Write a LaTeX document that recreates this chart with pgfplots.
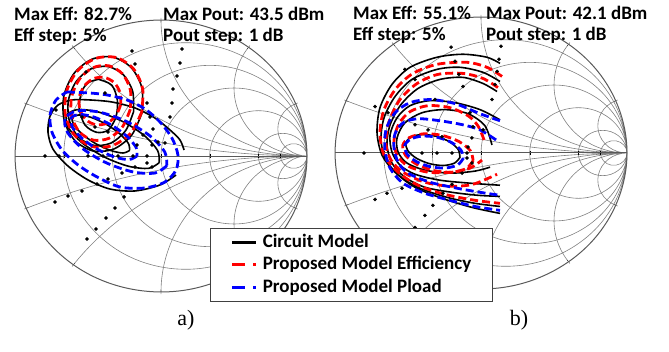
\documentclass[border=0pt]{standalone}
\usepackage{pgfplots}
\pgfplotsset{compat=1.18}
\usepgfplotslibrary{smithchart}
\usepackage{fontspec}
\setmainfont{Carlito}
\newfontfamily\seriffont{Liberation Serif}
\newcommand\notefont{\fontsize{19bp}{21bp}\selectfont\bfseries}

\pgfplotsset{
  smith base/.style={
    anchor=center, width=292bp, height=272bp, scale only axis,
    xtick={0.2,0.5,1,2,5,10}, ytick={-5,-2,-1,-0.5,-0.2,0.2,0.5,1,2,5},
    xticklabel={\relax}, yticklabel={\relax},
    major grid style={black!50, line width=0.6bp},
    axis line style={black!65, line width=1bp},
  },
  circ/.style={black, line width=1.6bp, smooth, is smithchart cs, no markers},
  effm/.style={red, line width=2.8bp, dash pattern=on 8bp off 4bp, smooth, is smithchart cs, no markers},
  plm/.style={blue, line width=2.8bp, dash pattern=on 8bp off 4bp, smooth, is smithchart cs, no markers},
  meas/.style={only marks, mark=*, mark size=1.6bp, black, is smithchart cs},
}

\begin{document}
\begin{tikzpicture}
\useasboundingbox (0,0) rectangle (669bp,352bp);

% ---------------- a) ----------------
\begin{smithchart}[smith base, at={(161bp,196bp)}]
% circuit model: efficiency contours
\addplot[circ] coordinates {(-0.429,0.564) (-0.338,0.522) (-0.299,0.412) (-0.308,0.289) (-0.361,0.191) (-0.440,0.174) (-0.521,0.228) (-0.560,0.351) (-0.543,0.473) (-0.498,0.539) (-0.429,0.564)};
\addplot[circ] coordinates {(-0.188,0.326) (-0.242,0.187) (-0.341,0.096) (-0.459,0.078) (-0.564,0.138) (-0.628,0.260) (-0.634,0.410) (-0.580,0.549) (-0.481,0.640) (-0.363,0.658) (-0.258,0.598) (-0.194,0.476) (-0.188,0.326)};
\addplot[circ] coordinates {(-0.129,0.321) (-0.199,0.156) (-0.322,0.052) (-0.465,0.037) (-0.590,0.114) (-0.663,0.262) (-0.665,0.443) (-0.595,0.608) (-0.472,0.712) (-0.329,0.727) (-0.204,0.650) (-0.131,0.502) (-0.129,0.321)};
% circuit model: output power contours
\addplot[circ] coordinates {(-0.215,0.041) (-0.260,0.022) (-0.346,0.041) (-0.449,0.092) (-0.541,0.162) (-0.599,0.232) (-0.607,0.283) (-0.562,0.302) (-0.476,0.283) (-0.373,0.232) (-0.281,0.162) (-0.223,0.092) (-0.215,0.041)};
\addplot[circ] coordinates {(-0.012,-0.049) (-0.085,-0.091) (-0.224,-0.075) (-0.391,-0.006) (-0.542,0.098) (-0.635,0.210) (-0.646,0.299) (-0.573,0.341) (-0.434,0.325) (-0.267,0.256) (-0.116,0.152) (-0.023,0.040) (-0.012,-0.049)};
\addplot[circ] coordinates {(0.103,-0.140) (-0.007,-0.213) (-0.178,-0.257) (-0.349,-0.243) (-0.500,-0.176) (-0.637,-0.074) (-0.740,0.051) (-0.774,0.176) (-0.760,0.294) (-0.705,0.375) (-0.610,0.412) (-0.486,0.412) (-0.336,0.397) (-0.178,0.353) (-0.041,0.279) (0.062,0.191) (0.130,0.118) (0.158,0.044)};
% proposed model: efficiency
\addplot[effm] coordinates {(-0.276,0.377) (-0.310,0.294) (-0.372,0.240) (-0.447,0.230) (-0.514,0.267) (-0.555,0.340) (-0.560,0.431) (-0.526,0.514) (-0.464,0.568) (-0.389,0.578) (-0.322,0.541) (-0.281,0.468) (-0.276,0.377)};
\addplot[effm] coordinates {(-0.210,0.344) (-0.264,0.214) (-0.357,0.130) (-0.465,0.117) (-0.558,0.176) (-0.612,0.293) (-0.612,0.436) (-0.558,0.566) (-0.465,0.650) (-0.357,0.663) (-0.264,0.604) (-0.210,0.487) (-0.210,0.344)};
\addplot[effm] coordinates {(-0.132,0.323) (-0.207,0.169) (-0.332,0.077) (-0.472,0.070) (-0.590,0.151) (-0.654,0.298) (-0.648,0.471) (-0.573,0.625) (-0.448,0.717) (-0.308,0.724) (-0.190,0.643) (-0.126,0.496) (-0.132,0.323)};
% proposed model: load power
\addplot[plm] coordinates {(-0.165,0.000) (-0.219,-0.026) (-0.319,-0.007) (-0.438,0.051) (-0.544,0.133) (-0.609,0.216) (-0.615,0.280) (-0.561,0.306) (-0.461,0.287) (-0.342,0.229) (-0.236,0.147) (-0.171,0.064) (-0.165,0.000)};
\addplot[plm] coordinates {(0.040,-0.071) (-0.040,-0.125) (-0.192,-0.117) (-0.375,-0.050) (-0.540,0.057) (-0.642,0.177) (-0.656,0.277) (-0.576,0.331) (-0.424,0.323) (-0.241,0.256) (-0.077,0.149) (0.026,0.029) (0.040,-0.071)};
\addplot[plm] coordinates {(-0.644,0.471) (-0.486,0.463) (-0.370,0.449) (-0.233,0.412) (-0.110,0.346) (-0.007,0.250) (0.075,0.132) (0.116,0.007) (0.103,-0.103) (0.027,-0.191) (-0.110,-0.235) (-0.281,-0.228) (-0.438,-0.154) (-0.568,-0.066) (-0.678,0.044) (-0.747,0.176) (-0.760,0.301) (-0.719,0.412) (-0.644,0.471)};
% load-pull points
\addplot[meas] coordinates {(-0.199,0.772) (0.144,0.787) (0.130,0.684) (-0.178,0.676) (-0.514,0.618) (0.110,0.588) (0.082,0.493) (-0.384,0.463) (0.075,0.390) (-0.096,0.390) (-0.719,0.338) (0.062,0.287) (-0.075,0.287) (-0.541,0.287) (-0.452,0.213) (-0.363,0.176) (-0.055,0.199) (-0.123,0.154) (-0.021,0.103) (0.027,0.096) (-0.062,0.081) (-0.164,0.081) (-0.795,0) (-0.699,0) (-0.500,0) (-0.397,0) (-0.295,0) (-0.192,0) (-0.096,0) (-0.096,-0.051) (-0.062,-0.081) (-0.178,-0.081) (-0.267,-0.125) (-0.363,-0.169) (-0.438,-0.206) (-0.541,-0.257) (-0.637,-0.294) (-0.726,-0.338) (-0.253,-0.301) (-0.315,-0.382) (-0.377,-0.456) (-0.445,-0.537) (-0.507,-0.610)};
\end{smithchart}

% ---------------- b) ----------------
\begin{smithchart}[smith base, at={(481bp,199bp)}]
% circuit model
\addplot[circ] coordinates {(0.130,0.659) (0.041,0.704) (-0.123,0.726) (-0.301,0.704) (-0.486,0.630) (-0.610,0.504) (-0.692,0.333) (-0.712,0.148) (-0.678,-0.015) (-0.589,-0.141) (-0.452,-0.252) (-0.267,-0.333) (-0.062,-0.400) (0.130,-0.444)};
\addplot[circ] coordinates {(0.130,0.526) (0.014,0.593) (-0.144,0.630) (-0.301,0.615) (-0.473,0.541) (-0.589,0.415) (-0.664,0.259) (-0.685,0.096) (-0.651,-0.052) (-0.555,-0.170) (-0.418,-0.259) (-0.233,-0.326) (-0.041,-0.370) (0.130,-0.393)};
\addplot[circ] coordinates {(0.110,0.452) (0.014,0.511) (-0.123,0.556) (-0.281,0.541) (-0.432,0.474) (-0.548,0.356) (-0.623,0.207) (-0.644,0.059) (-0.610,-0.074) (-0.521,-0.178) (-0.384,-0.252) (-0.199,-0.289) (-0.021,-0.311) (0.130,-0.319)};
\addplot[circ] coordinates {(0.130,0.244) (-0.007,0.319) (-0.178,0.370) (-0.349,0.385) (-0.486,0.348) (-0.575,0.259) (-0.623,0.133) (-0.610,0.007) (-0.555,-0.089) (-0.452,-0.156) (-0.281,-0.200) (-0.075,-0.222) (0.130,-0.237)};
\addplot[circ] coordinates {(0.075,0.059) (0.027,0.200) (-0.089,0.289) (-0.247,0.319) (-0.404,0.296) (-0.521,0.222) (-0.575,0.111) (-0.568,0.007) (-0.507,-0.074) (-0.384,-0.126) (-0.212,-0.148) (-0.041,-0.133) (0.062,-0.104)};
\addplot[circ] coordinates {(-0.144,-0.032) (-0.181,-0.074) (-0.258,-0.092) (-0.354,-0.078) (-0.443,-0.038) (-0.502,0.018) (-0.514,0.076) (-0.477,0.119) (-0.400,0.136) (-0.304,0.122) (-0.215,0.082) (-0.156,0.026) (-0.144,-0.032)};
% proposed model: efficiency
\addplot[effm] coordinates {(0.144,0.563) (0.041,0.630) (-0.096,0.667) (-0.301,0.652) (-0.466,0.585) (-0.582,0.474) (-0.664,0.319) (-0.692,0.148) (-0.664,-0.015) (-0.568,-0.141) (-0.432,-0.237) (-0.247,-0.304) (-0.041,-0.348) (0.130,-0.370)};
\addplot[effm] coordinates {(0.116,0.481) (0.014,0.548) (-0.123,0.585) (-0.295,0.578) (-0.438,0.511) (-0.555,0.393) (-0.630,0.230) (-0.651,0.067) (-0.616,-0.052) (-0.534,-0.141) (-0.384,-0.215) (-0.212,-0.244) (-0.055,-0.230) (0.110,-0.156)};
\addplot[effm] coordinates {(0.021,0.096) (-0.021,0.200) (-0.089,0.274) (-0.212,0.333) (-0.363,0.348) (-0.486,0.304) (-0.562,0.215) (-0.596,0.096) (-0.575,-0.015) (-0.500,-0.096) (-0.363,-0.141) (-0.199,-0.141) (-0.075,-0.111) (0.007,-0.052)};
\addplot[effm] coordinates {(-0.054,-0.056) (-0.099,-0.113) (-0.197,-0.141) (-0.321,-0.130) (-0.438,-0.085) (-0.517,-0.017) (-0.536,0.056) (-0.491,0.113) (-0.393,0.141) (-0.269,0.130) (-0.152,0.085) (-0.073,0.017) (-0.054,-0.056)};
% proposed model: load power
\addplot[plm] coordinates {(0.130,0.237) (-0.007,0.289) (-0.178,0.363) (-0.349,0.393) (-0.486,0.370) (-0.589,0.296) (-0.651,0.170) (-0.658,0.022) (-0.623,-0.111) (-0.534,-0.222) (-0.384,-0.296) (-0.212,-0.348) (-0.041,-0.393) (0.130,-0.422)};
\addplot[plm] coordinates {(0.103,0.096) (-0.007,0.170) (-0.123,0.207) (-0.281,0.237) (-0.432,0.252) (-0.534,0.222) (-0.589,0.141) (-0.596,0.037) (-0.568,-0.067) (-0.500,-0.148) (-0.349,-0.215) (-0.164,-0.259) (-0.007,-0.289) (0.130,-0.311)};
\addplot[plm] coordinates {(-0.121,-0.039) (-0.159,-0.087) (-0.240,-0.110) (-0.343,-0.102) (-0.441,-0.064) (-0.507,-0.007) (-0.523,0.053) (-0.485,0.101) (-0.404,0.124) (-0.301,0.116) (-0.203,0.078) (-0.137,0.021) (-0.121,-0.039)};
% load-pull points
\addplot[meas] coordinates {(-0.205,0.778) (0.137,0.785) (0.123,0.689) (-0.178,0.674) (-0.521,0.615) (0.110,0.600) (-0.452,0.541) (-0.151,0.578) (0.096,0.504) (-0.123,0.489) (0.075,0.393) (-0.315,0.393) (-0.726,0.341) (-0.637,0.296) (-0.075,0.296) (-0.452,0.207) (-0.363,0.170) (0.014,0.170) (-0.267,0.119) (-0.055,0.193) (-0.062,0.111) (-0.089,0.044) (-0.801,0) (-0.404,0) (-0.301,0) (-0.199,0) (-0.096,0) (-0.096,-0.037) (-0.062,-0.074) (-0.130,-0.148) (-0.199,-0.230) (-0.260,-0.296) (-0.541,-0.259) (-0.644,-0.296) (-0.726,-0.341) (-0.329,-0.385) (-0.384,-0.459) (-0.452,-0.548)};
\end{smithchart}

% ---------------- legend ----------------
\begin{axis}[at={(351.5bp,87bp)}, anchor=center, width=10bp, height=10bp, scale only axis,
  hide axis, xmin=0, xmax=1, ymin=0, ymax=1,
  legend style={at={(0.5,0.5)}, anchor=center, draw=black!75, line width=0.9bp, fill=white,
    inner xsep=20bp, inner ysep=3.5bp, row sep=1bp, column sep=4bp, font=\notefont,
    nodes={inner sep=1bp, text height=14.5bp, text depth=5bp}, cells={anchor=west}},
  legend image code/.code={\draw[#1] (0bp,0bp) -- (24bp,0bp);}]
\addlegendimage{black, line width=3bp}
\addlegendentry{Circuit Model}
\addlegendimage{red, line width=3bp, dash pattern=on 13bp off 8bp}
\addlegendentry{Proposed Model Efficiency}
\addlegendimage{blue, line width=3bp, dash pattern=on 13bp off 8bp}
\addlegendentry{Proposed Model Pload}
\end{axis}

% ---------------- annotations ----------------
\node[anchor=base west, inner sep=0pt, font=\notefont] at (14bp,331bp) {Max Eff: 82.7\%};
\node[anchor=base west, inner sep=0pt, font=\notefont] at (14bp,310bp) {Eff step: 5\%};
\node[anchor=base west, inner sep=0pt, font=\notefont] at (163bp,331bp) {Max Pout: 43.5 dBm};
\node[anchor=base west, inner sep=0pt, font=\notefont] at (163bp,310bp) {Pout step: 1 dB};
\node[anchor=base west, inner sep=0pt, font=\notefont] at (353bp,332bp) {Max Eff: 55.1\%};
\node[anchor=base west, inner sep=0pt, font=\notefont] at (353bp,311bp) {Eff step: 5\%};
\node[anchor=base west, inner sep=0pt, font=\notefont] at (486bp,332bp) {Max Pout: 42.1 dBm};
\node[anchor=base west, inner sep=0pt, font=\notefont] at (486bp,311bp) {Pout step: 1 dB};
\node[anchor=base, inner sep=0pt, font=\seriffont\fontsize{22bp}{24bp}\selectfont] at (186bp,27bp) {a)};
\node[anchor=base, inner sep=0pt, font=\seriffont\fontsize{22bp}{24bp}\selectfont] at (519bp,27bp) {b)};
\end{tikzpicture}
\end{document}
